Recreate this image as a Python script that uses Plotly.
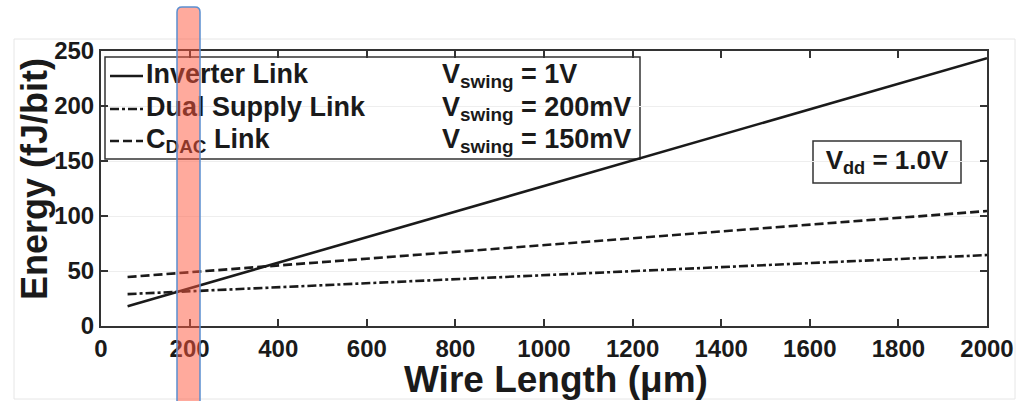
import plotly.graph_objects as go

# ---- data ----
wire_len = [60, 2000]                 # µm
inverter = [18, 243.5]                # fJ/bit, solid
dual_supply = [29, 64.5]              # dash-dot
cdac = [44.5, 104.5]                  # dashed

x_ticks = [0, 200, 400, 600, 800, 1000, 1200, 1400, 1600, 1800, 2000]
y_ticks = [0, 50, 100, 150, 200, 250]

x_title = "Wire Length (μm)"
y_title = "Energy (fJ/bit)"
legend_names = ["Inverter Link", "Dual Supply Link", "C<sub>DAC</sub> Link"]
legend_swing = ["V<sub>swing</sub> = 1V", "V<sub>swing</sub> = 200mV", "V<sub>swing</sub> = 150mV"]
legend_dash = ["solid", "9px,3px,3px,3px", "9px,4px"]
vdd_text = "V<sub>dd</sub> = 1.0V"

FONT = "Liberation Sans, Arial, sans-serif"
INK = "#1a1a1a"

# plot area in pixels
L, R, T, B = 101, 987, 51, 326
W, H = R - L, B - T
XMAX, YMAX = 2000, 250


def px(p):
    return (p - L) / W


def py(p):
    return (B - p) / H


def dx(p):
    return (p - L) / W * XMAX


def dy(p):
    return (B - p) / H * YMAX


fig = go.Figure()

series = [(inverter, legend_dash[0]), (dual_supply, legend_dash[1]), (cdac, legend_dash[2])]
for ys, dash in series:
    fig.add_trace(go.Scatter(x=wire_len, y=ys, mode="lines",
                             line=dict(color=INK, width=2.6, dash=dash),
                             showlegend=False, hoverinfo="skip"))

shapes = []
# faint outer frame
shapes.append(dict(type="rect", xref="paper", yref="paper",
                   x0=px(14), x1=px(1015), y0=py(399), y1=py(39),
                   line=dict(color="#e6e6e6", width=1), layer="below"))
# legend box
shapes.append(dict(type="rect", xref="paper", yref="paper",
                   x0=px(105), x1=px(640), y0=py(159), y1=py(57),
                   line=dict(color="#333333", width=1.5), fillcolor="white", layer="below"))
# legend samples
rows_py = [76, 109, 141]
for rp, dash in zip(rows_py, legend_dash):
    shapes.append(dict(type="line", xref="paper", yref="paper",
                       x0=px(110), x1=px(143), y0=py(rp), y1=py(rp),
                       line=dict(color=INK, width=2.4, dash=dash), layer="below"))
# Vdd box
shapes.append(dict(type="rect", xref="paper", yref="paper",
                   x0=px(813), x1=px(961), y0=py(183), y1=py(141),
                   line=dict(color="#333333", width=1.5), fillcolor="white", layer="below"))

# red highlight with rounded top
hx0, hx1, htop, hbot, r = 177, 200, 7, 405, 5
path = (f"M {px(hx0)},{py(hbot)} L {px(hx0)},{py(htop + r)} "
        f"Q {px(hx0)},{py(htop)} {px(hx0 + r)},{py(htop)} "
        f"L {px(hx1 - r)},{py(htop)} "
        f"Q {px(hx1)},{py(htop)} {px(hx1)},{py(htop + r)} "
        f"L {px(hx1)},{py(hbot)} Z")
shapes.append(dict(type="path", xref="paper", yref="paper", path=path,
                   fillcolor="rgba(255,85,60,0.5)",
                   line=dict(color="#5b8fd0", width=1.5), layer="above"))

# legend / box texts as text traces (so the highlight lies on top of them)
fig.add_trace(go.Scatter(x=[dx(146)] * 3, y=[dy(p) for p in rows_py], mode="text",
                         text=legend_names, textposition="middle right",
                         textfont=dict(family=FONT, size=27, color=INK, weight="bold"),
                         showlegend=False, hoverinfo="skip", cliponaxis=False))
fig.add_trace(go.Scatter(x=[dx(442)] * 3, y=[dy(p) for p in rows_py], mode="text",
                         text=legend_swing, textposition="middle right",
                         textfont=dict(family=FONT, size=27, color=INK, weight="bold"),
                         showlegend=False, hoverinfo="skip", cliponaxis=False))
fig.add_trace(go.Scatter(x=[dx(887)], y=[dy(162)], mode="text",
                         text=[vdd_text], textposition="middle center",
                         textfont=dict(family=FONT, size=26, color=INK, weight="bold"),
                         showlegend=False, hoverinfo="skip", cliponaxis=False))

axis_common = dict(showline=True, linecolor="#333333", linewidth=2, mirror="ticks",
                   ticks="inside", ticklen=7, tickwidth=1.5, tickcolor="#333333",
                   zeroline=False, automargin=False,
                   tickfont=dict(family=FONT, size=24, color=INK, weight="bold"))

fig.update_layout(
    width=1017, height=401,
    margin=dict(l=L, r=1017 - R, t=T, b=401 - B, autoexpand=False),
    paper_bgcolor="white", plot_bgcolor="white",
    shapes=shapes,
    xaxis=dict(range=[0, XMAX], tickvals=x_ticks, ticktext=[str(v) for v in x_ticks],
               showgrid=False, **axis_common),
    yaxis=dict(range=[0, YMAX], tickvals=y_ticks, ticktext=[str(v) for v in y_ticks],
               showgrid=True, gridcolor="#eeeeee", gridwidth=1, **axis_common),
    annotations=[
        dict(text=x_title, xref="paper", yref="paper", x=px(556), y=py(379),
             xanchor="center", yanchor="middle", showarrow=False,
             font=dict(family=FONT, size=37, color=INK, weight="bold")),
        dict(text=y_title, xref="paper", yref="paper", x=px(34), y=py(179),
             xanchor="center", yanchor="middle", showarrow=False, textangle=-90,
             font=dict(family=FONT, size=36, color=INK, weight="bold")),
    ],
)

fig.write_html("out.html", config={"displayModeBar": False},
               post_script="document.body.style.margin='0';document.body.style.overflow='hidden';")
